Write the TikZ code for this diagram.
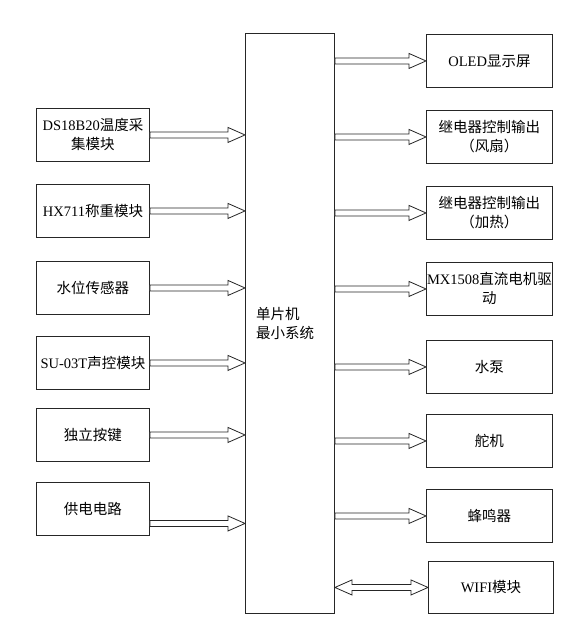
\documentclass[tikz,border=0pt]{standalone}
\usepackage{fontspec}
\setmainfont{Liberation Serif}
\newfontfamily\cjk{Noto Sans CJK SC}
\usetikzlibrary{calc}
\tikzset{
  box/.style={draw=black!85, line width=0.9pt, fill=white, anchor=north west, align=center,
    inner sep=0pt, font=\fontsize{14.5}{19}\selectfont},
  lbox/.style={box, minimum width=113pt, minimum height=53pt},
  rbox/.style={box, minimum width=126pt, minimum height=53pt},
  barrow/.style={draw=black!85, line width=0.8pt, fill=white, line join=miter}
}
\newcommand\blockarrow[2]{%
  \draw[barrow] let \p1=#1, \p2=#2 in
    (\x1,\y1+3pt) -- (\x2-17pt,\y1+3pt) -- (\x2-17pt,\y1+7.5pt) -- (\x2,\y1)
    -- (\x2-17pt,\y1-7.5pt) -- (\x2-17pt,\y1-3pt) -- (\x1,\y1-3pt) -- cycle;}
\newcommand\dblockarrow[2]{%
  \draw[barrow] let \p1=#1, \p2=#2 in
    (\x1,\y1) -- (\x1+17pt,\y1+7.5pt) -- (\x1+17pt,\y1+3pt) -- (\x2-17pt,\y1+3pt)
    -- (\x2-17pt,\y1+7.5pt) -- (\x2,\y1) -- (\x2-17pt,\y1-7.5pt) -- (\x2-17pt,\y1-3pt)
    -- (\x1+17pt,\y1-3pt) -- (\x1+17pt,\y1-7.5pt) -- cycle;}
\begin{document}
\begin{tikzpicture}[x=1pt,y=-1pt]
\useasboundingbox[fill=white] (0,0) rectangle (568,623);
% central MCU
\node[box, minimum width=89pt, minimum height=580pt] (mcu) at (245,33) {};
\node[font=\fontsize{14.5}{19}\selectfont, align=left, inner sep=0pt] (mcutext) at (285,323) {\cjk 单片机\\\cjk 最小系统};
% left boxes
\node[lbox] (ds) at (36,108) {DS18B20{\cjk 温度采}\\{\cjk 集模块}};
\node[lbox] (hx) at (36,184) {HX711{\cjk 称重模块}};
\node[lbox] (sw) at (36,261) {\cjk 水位传感器};
\node[lbox] (su) at (36,336) {SU-03T{\cjk 声控模块}};
\node[lbox] (key) at (36,408) {\cjk 独立按键};
\node[lbox] (pw) at (36,482) {\cjk 供电电路};
% right boxes
\node[rbox] (oled) at (426,34) {OLED{\cjk 显示屏}};
\node[rbox] (fan) at (426,110) {\cjk 继电器控制输出\\\cjk （风扇）};
\node[rbox] (heat) at (426,186) {\cjk 继电器控制输出\\\cjk （加热）};
\node[rbox] (mx) at (426,262) {MX1508{\cjk 直流电机驱}\\{\cjk 动}};
\node[rbox] (pump) at (426,340) {\cjk 水泵};
\node[rbox] (servo) at (426,414) {\cjk 舵机};
\node[rbox] (buzz) at (426,489) {\cjk 蜂鸣器};
\node[rbox, minimum width=125pt, minimum height=52pt] (wifi) at (428,561) {WIFI{\cjk 模块}};
% left arrows
\blockarrow{(ds.east)}{(mcu.west |- ds.east)}
\blockarrow{(hx.east)}{(mcu.west |- hx.east)}
\blockarrow{(sw.east)}{(mcu.west |- sw.east)}
\blockarrow{(su.east)}{(mcu.west |- su.east)}
\blockarrow{(key.east)}{(mcu.west |- key.east)}
\coordinate (pwout) at ([yshift=-14.5pt]pw.east);
\blockarrow{(pwout)}{(mcu.west |- pwout)}
% right arrows
\blockarrow{(mcu.east |- oled.west)}{(oled.west)}
\blockarrow{(mcu.east |- fan.west)}{(fan.west)}
\blockarrow{(mcu.east |- heat.west)}{(heat.west)}
\blockarrow{(mcu.east |- mx.west)}{(mx.west)}
\blockarrow{(mcu.east |- pump.west)}{(pump.west)}
\blockarrow{(mcu.east |- servo.west)}{(servo.west)}
\blockarrow{(mcu.east |- buzz.west)}{(buzz.west)}
\dblockarrow{(mcu.east |- wifi.west)}{(wifi.west)}
\end{tikzpicture}
\end{document}
